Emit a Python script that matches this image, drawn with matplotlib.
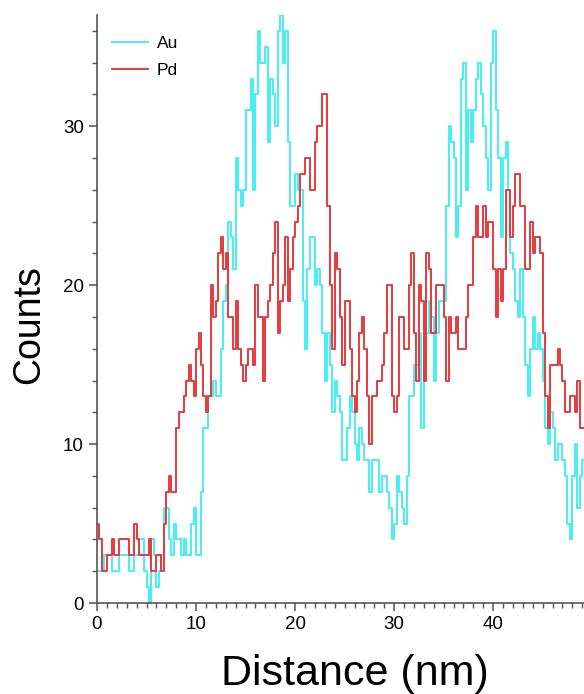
import numpy as np
import matplotlib
matplotlib.use("Agg")
import matplotlib.pyplot as plt
from matplotlib.ticker import MultipleLocator, FixedLocator

plt.rcParams['font.family'] = ['Liberation Sans', 'DejaVu Sans']

step_nm = 0.25
au_counts = [2, 2, 2, 3, 3, 3, 2, 2, 2, 3, 3, 3, 3, 2, 2, 3, 3, 4, 4, 2,
             1, 0, 4, 3, 1, 2, 3, 6, 6, 4, 3, 5, 4, 4, 3, 4, 3, 3, 5, 6,
             3, 3, 7, 11, 11, 13, 13, 14, 13, 13, 16, 19, 20, 24, 23, 21, 28, 26, 25, 26,
             31, 31, 33, 26, 32, 36, 34, 34, 35, 29, 33, 32, 30, 36, 37, 34, 36, 29, 25, 25,
             27, 26, 26, 19, 16, 21, 23, 23, 20, 21, 20, 17, 14, 17, 15, 12, 14, 13, 12, 9,
             9, 11, 13, 12, 10, 9, 11, 10, 9, 9, 7, 9, 9, 9, 7, 8, 8, 7, 6, 4,
             5, 8, 7, 6, 5, 8, 13, 13, 15, 15, 17, 11, 15, 17, 19, 18, 14, 17, 19, 19,
             19, 25, 30, 29, 28, 23, 25, 33, 34, 26, 31, 29, 31, 33, 34, 32, 30, 28, 26, 34,
             36, 31, 28, 23, 28, 29, 26, 22, 21, 19, 18, 21, 18, 15, 13, 16, 18, 16, 17, 16,
             14, 11, 10, 12, 11, 9, 10, 10, 9, 8, 5, 4, 8, 10, 6, 8, 9]
pd_counts = [5, 4, 2, 2, 3, 3, 4, 3, 3, 4, 4, 4, 4, 3, 3, 5, 4, 3, 3, 3,
             3, 4, 2, 2, 3, 3, 2, 5, 7, 8, 7, 7, 11, 12, 12, 13, 14, 15, 14, 13,
             16, 17, 15, 13, 12, 13, 20, 18, 19, 22, 23, 21, 22, 18, 18, 16, 19, 16, 15, 14,
             15, 16, 16, 15, 20, 18, 18, 14, 18, 19, 20, 22, 24, 17, 19, 20, 23, 19, 21, 23,
             24, 25, 27, 27, 28, 28, 26, 26, 29, 30, 30, 32, 32, 25, 20, 16, 22, 21, 18, 15,
             19, 19, 16, 13, 12, 14, 17, 18, 16, 13, 10, 13, 13, 14, 14, 15, 17, 20, 20, 13,
             12, 13, 18, 18, 16, 16, 20, 22, 17, 14, 20, 19, 14, 22, 21, 17, 17, 20, 20, 20,
             18, 14, 18, 17, 17, 18, 16, 16, 16, 18, 20, 20, 23, 25, 23, 23, 25, 23, 24, 24,
             21, 18, 21, 19, 21, 26, 26, 23, 25, 27, 27, 25, 25, 21, 21, 24, 22, 23, 23, 22,
             17, 13, 11, 15, 15, 15, 16, 15, 14, 12, 12, 13, 13, 12, 14, 11, 11]
x_tick_values = [0, 10, 20, 30, 40]

distance = np.arange(len(au_counts) + 1) * step_nm

au_color = '#45EFF3'
pd_color = '#E63A3D'

fig = plt.figure(figsize=(5.84, 6.94), dpi=100)
ax = fig.add_axes([97 / 584, 91 / 694, 516 / 584, 588 / 694])

ax.step(distance, au_counts + [au_counts[-1]], where='post', color=au_color, lw=1.4, label='Au')
ax.step(distance, pd_counts + [pd_counts[-1]], where='post', color=pd_color, lw=1.4, label='Pd')

ax.set_xlim(0, 52.1)
ax.set_ylim(0, 37)

for s in ['top', 'right']:
    ax.spines[s].set_visible(False)
for s in ['left', 'bottom']:
    ax.spines[s].set_color('#555555')
    ax.spines[s].set_linewidth(1.2)

ax.xaxis.set_major_locator(FixedLocator(x_tick_values))
ax.xaxis.set_minor_locator(MultipleLocator(1))
ax.yaxis.set_major_locator(MultipleLocator(10))
ax.yaxis.set_minor_locator(MultipleLocator(2))
ax.tick_params(which='major', length=6, width=1.1, color='#555555', labelsize=13.5, direction='out')
ax.tick_params(which='minor', length=3.5, width=1.0, color='#555555', direction='out')

ax.set_xlabel('Distance (nm)', fontsize=31, labelpad=15)
ax.set_ylabel('Counts', fontsize=27)
ax.yaxis.set_label_coords(-0.097, 0.473)

ax.legend(loc='upper left', bbox_to_anchor=(0.008, 0.982), frameon=False, fontsize=12.5,
          handlelength=2.1, handletextpad=0.5, labelspacing=0.7, borderaxespad=0.2)

fig.savefig('out.png', dpi=100)
